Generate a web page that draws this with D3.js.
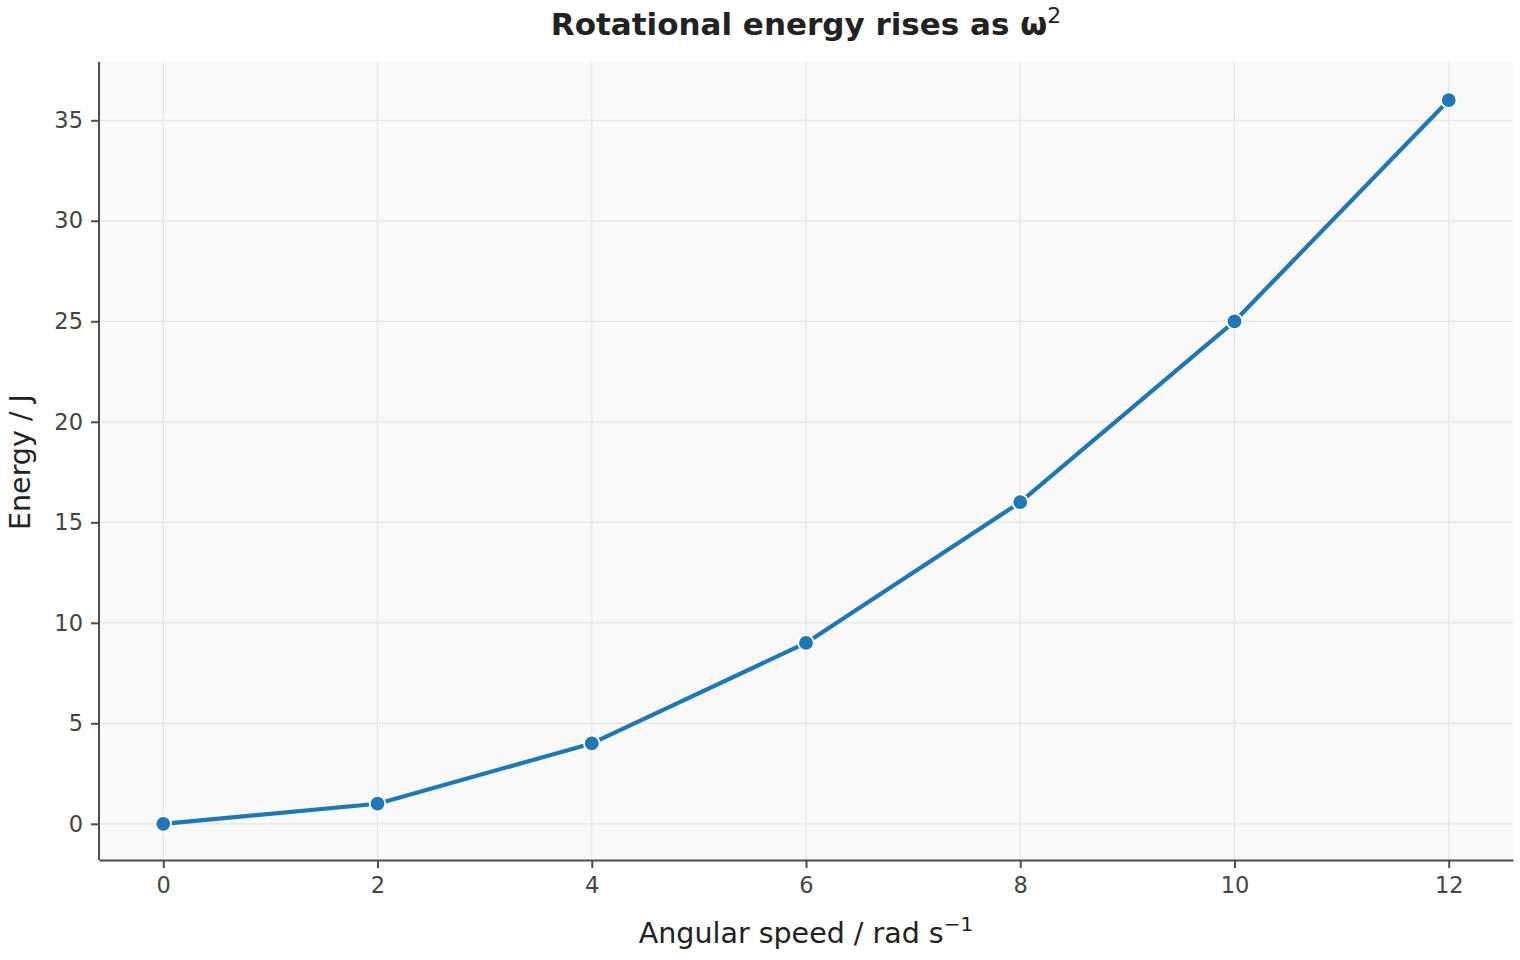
<!DOCTYPE html>
<html>
<head>
<meta charset="utf-8">
<script src="https://cdn.jsdelivr.net/npm/d3@7"></script>
<style>
  body { margin: 0; background: #fff; }
  text { font-family: "DejaVu Sans", sans-serif; }
</style>
</head>
<body>
<svg id="chart" width="1520" height="960"></svg>
<script>
// angular speed (rad/s) and rotational energy (J)
var omega = [0, 2, 4, 6, 8, 10, 12];
var energy = [0, 1, 4, 9, 16, 25, 36];
var xTicks = [0, 2, 4, 6, 8, 10, 12];
var yTicks = [0, 5, 10, 15, 20, 25, 30, 35];

var svg = d3.select('#chart');
var margin = {left: 99, right: 7, top: 64, bottom: 100};
var width = 1520 - margin.left - margin.right;
var height = 960 - margin.top - margin.bottom;

var x = d3.scaleLinear().domain([-0.6, 12.6]).range([0, width]);
var y = d3.scaleLinear().domain([-1.8, 37.8]).range([height, 0]);

var g = svg.append('g').attr('transform', 'translate(' + margin.left + ',' + margin.top + ')');

g.append('rect')
  .attr('y', -2)
  .attr('width', width)
  .attr('height', height + 2)
  .attr('fill', '#f9f9fa');

// grid
g.append('g').selectAll('line').data(xTicks).enter().append('line')
  .attr('x1', (d) => x(d)).attr('x2', (d) => x(d))
  .attr('y1', -2).attr('y2', height)
  .attr('stroke', '#e3e5ea').attr('stroke-width', 1.2);
g.append('g').selectAll('line').data(yTicks).enter().append('line')
  .attr('y1', (d) => y(d)).attr('y2', (d) => y(d))
  .attr('x1', 0).attr('x2', width)
  .attr('stroke', '#e3e5ea').attr('stroke-width', 1.2);

// axes
function styleAxis(sel) {
  sel.attr('font-size', 22.5).attr('font-family', '"DejaVu Sans", sans-serif');
  sel.select('.domain').attr('stroke', '#4d4d4d').attr('stroke-width', 2);
  sel.selectAll('.tick line').attr('stroke', '#4d4d4d').attr('stroke-width', 2);
  sel.selectAll('.tick text').attr('fill', '#444');
}

var xAxis = g.append('g')
  .attr('transform', 'translate(0,' + height + ')')
  .call(d3.axisBottom(x).tickValues(xTicks).tickSize(8).tickPadding(9).tickSizeOuter(0));
styleAxis(xAxis);

var yAxis = g.append('g')
  .call(d3.axisLeft(y).tickValues(yTicks).tickSize(8).tickPadding(8).tickSizeOuter(0));
styleAxis(yAxis);
yAxis.select('.domain').attr('d', 'M0,' + height + 'V-2');

// line + markers
var line = d3.line()
  .x((d, i) => x(omega[i]))
  .y((d) => y(d));

g.append('path')
  .datum(energy)
  .attr('d', line)
  .attr('fill', 'none')
  .attr('stroke', '#1f77b4')
  .attr('stroke-width', 4.2)
  .attr('stroke-linejoin', 'round');

g.selectAll('circle.pt').data(energy).enter().append('circle')
  .attr('class', 'pt')
  .attr('cx', (d, i) => x(omega[i]))
  .attr('cy', (d) => y(d))
  .attr('r', 7.8)
  .attr('fill', '#1f77b4')
  .attr('stroke', '#fff')
  .attr('stroke-width', 1.8);

// title
var title = svg.append('text')
  .attr('x', 806).attr('y', 35)
  .attr('text-anchor', 'middle')
  .attr('fill', '#222')
  .style('font-size', '31px')
  .style('font-weight', 'bold')
  .text('Rotational energy rises as ω');
title.append('tspan')
  .attr('dy', -12)
  .style('font-size', '22px')
  .style('font-weight', 'normal')
  .text('2');

// x label
var xl = svg.append('text')
  .attr('x', 806).attr('y', 943)
  .attr('text-anchor', 'middle')
  .attr('fill', '#222')
  .style('font-size', '28.5px')
  .text('Angular speed / rad s');
xl.append('tspan').attr('dy', -12).style('font-size', '20px').text('−1');

// y label
svg.append('text')
  .attr('transform', 'translate(30,' + (margin.top + height / 2) + ') rotate(-90)')
  .attr('text-anchor', 'middle')
  .attr('fill', '#222')
  .style('font-size', '28.5px')
  .text('Energy / J');
</script>
</body>
</html>
